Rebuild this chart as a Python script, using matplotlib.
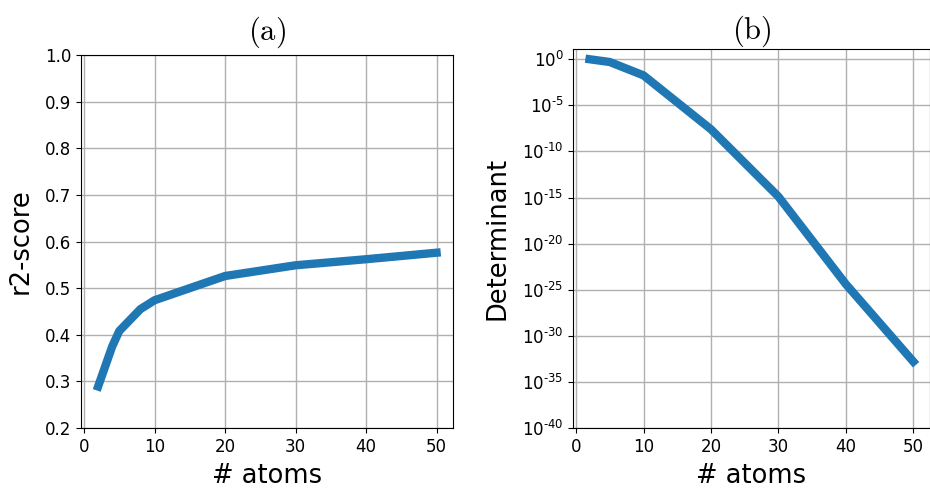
import matplotlib
matplotlib.use('Agg')
import matplotlib.pyplot as plt
import numpy as np

# datos
atoms_a = [2, 4, 5, 8, 10, 20, 30, 40, 50]
r2 = [0.289, 0.375, 0.408, 0.455, 0.474, 0.526, 0.549, 0.562, 0.576]

atoms_b = [2, 5, 10, 20, 30, 40, 50]
log_det = [0.0, -0.3, -1.75, -7.6, -14.9, -24.4, -32.8]
det = [10.0 ** v for v in log_det]

yticks_b = [0, -5, -10, -15, -20, -25, -30, -35, -40]
xticks = [0, 10, 20, 30, 40, 50]

plt.rcParams['axes.unicode_minus'] = False
azul = '#1f77b4'

fig = plt.figure(figsize=(9.3, 4.94), dpi=100)

# (a) r2-score
ax1 = fig.add_axes([0.0873, 0.1336, 0.4003, 0.755])
ax1.plot(atoms_a, r2, '-', color=azul, lw=6)
ax1.set_ylim(0.2, 1.0)
ax1.set_xticks(xticks)
ax1.grid(True, color='#b0b0b0', lw=1)
ax1.tick_params(labelsize=12)
ax1.set_xlabel('# atoms', fontsize=18.5, labelpad=5)
ax1.set_ylabel('r2-score', fontsize=18.5, labelpad=8)
ax1.set_title(r'$\mathrm{(a)}$', math_fontfamily='cm', fontsize=22, pad=11)

# (b) determinante
ax2 = fig.add_axes([0.6165, 0.1336, 0.383, 0.767])
ax2.plot(atoms_b, det, '-', color=azul, lw=6)
ax2.set_yscale('log')
ax2.set_ylim(1e-40, 10 ** 1.1)
ax2.set_yticks([10.0 ** e for e in yticks_b])
etiquetas = []
for e in yticks_b:
    if e < 0:
        etiquetas.append(r'$\mathdefault{10^{\text{-%d}}}$' % (-e))
    else:
        etiquetas.append(r'$\mathdefault{10^{%d}}$' % e)
ax2.set_yticklabels(etiquetas)
ax2.minorticks_off()
ax2.set_xticks(xticks)
ax2.grid(True, color='#b0b0b0', lw=1)
ax2.tick_params(labelsize=12)
ax2.set_xlabel('# atoms', fontsize=18.5, labelpad=5)
ax2.set_ylabel('Determinant', fontsize=18.5, labelpad=8)
ax2.set_title(r'$\mathrm{(b)}$', math_fontfamily='cm', fontsize=22, pad=7)

plt.savefig('out.png', dpi=100)
